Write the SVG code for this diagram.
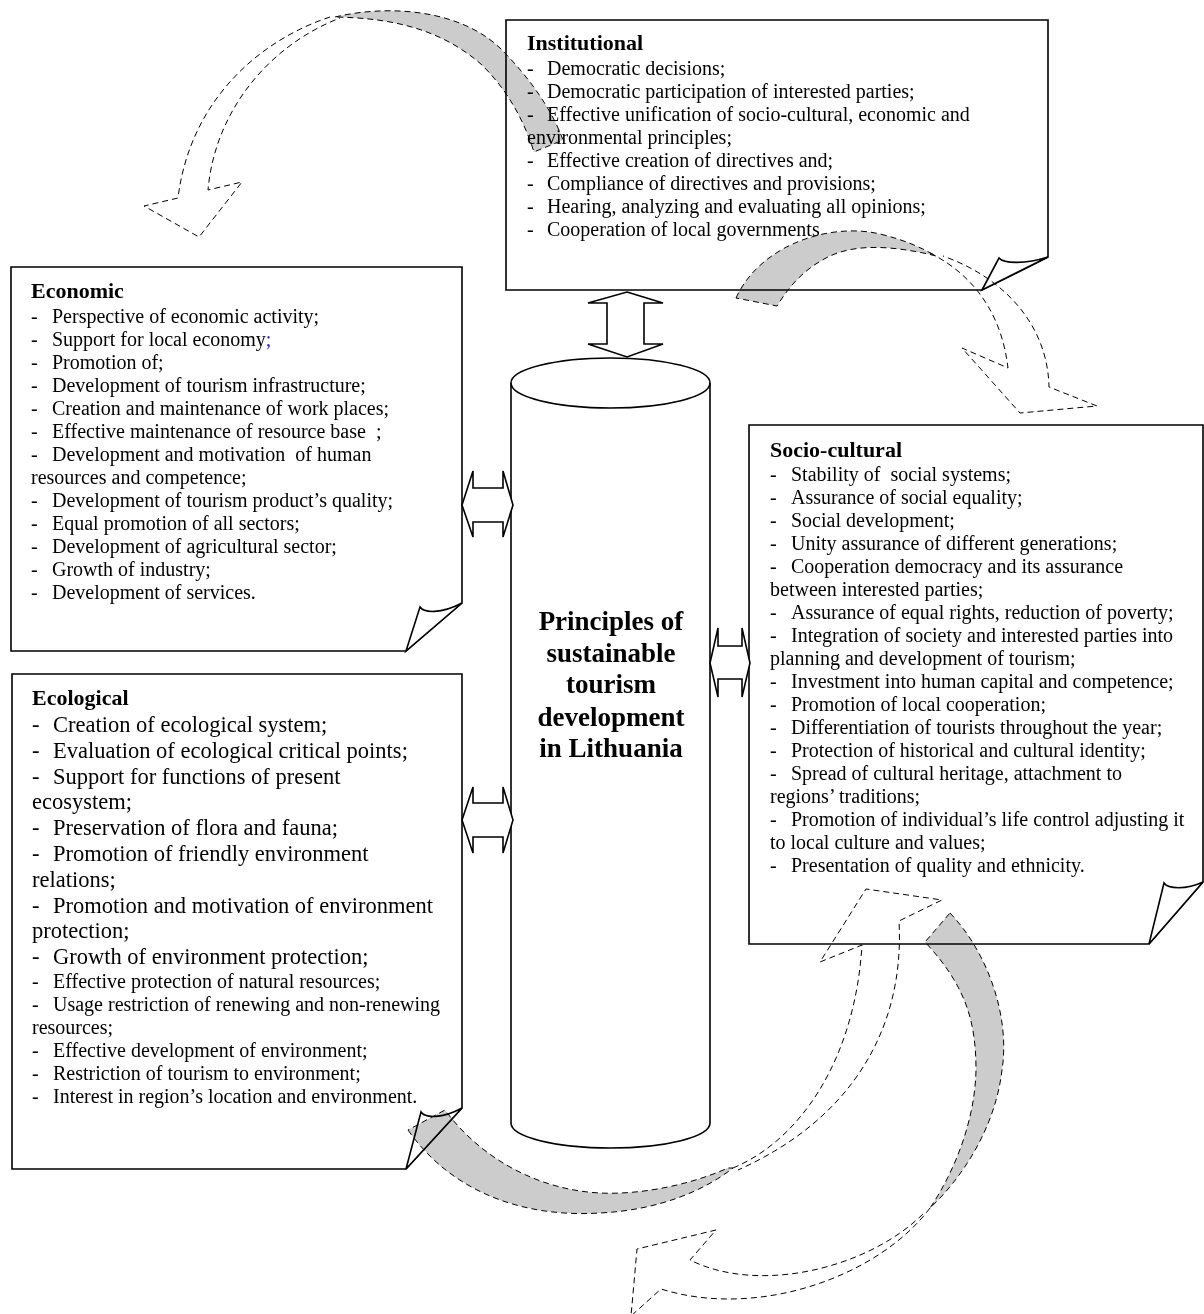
<svg xmlns="http://www.w3.org/2000/svg" width="1204" height="1314" viewBox="0 0 1204 1314">
<style>
  .frame{fill:#fff;stroke:#000;stroke-width:1.6;stroke-linejoin:miter}
  .flap{fill:#fff;stroke:#000;stroke-width:1.6;stroke-linejoin:miter}
  .dbl{fill:#fff;stroke:#000;stroke-width:1.6;stroke-linejoin:miter}
  .cyl{fill:#fff;stroke:#000;stroke-width:1.6}
  text{font-family:"Liberation Serif","Times New Roman",serif;font-size:20px;fill:#000}
  .title{font-weight:bold;font-size:22px}
  .big{font-size:22.5px}
  .core{font-weight:bold;font-size:27px;text-anchor:middle}
  .band{fill:#cccccc;stroke:#000;stroke-width:1;stroke-dasharray:6 4;mix-blend-mode:multiply}
  .ghost{fill:none;stroke:#000;stroke-width:1;stroke-dasharray:6 4}
</style>

<!-- Institutional -->
<g id="node-institutional">
  <path class="frame" d="M506,20 H1048 V257 L982,290 H506 Z"/>
  <path class="flap" d="M982,290 L999,258 C1004,264 1026,264 1048,257 Z"/>
  <text class="title" x="527" y="50">Institutional</text>
  <text x="527" y="75"><tspan>-</tspan><tspan x="547">Democratic decisions;</tspan></text>
  <text x="527" y="98"><tspan>-</tspan><tspan x="547">Democratic participation of interested parties;</tspan></text>
  <text x="527" y="121"><tspan>-</tspan><tspan x="547">Effective unification of socio-cultural, economic and</tspan></text>
  <text x="527" y="144">environmental principles;</text>
  <text x="527" y="167"><tspan>-</tspan><tspan x="547">Effective creation of directives and;</tspan></text>
  <text x="527" y="190"><tspan>-</tspan><tspan x="547">Compliance of directives and provisions;</tspan></text>
  <text x="527" y="213"><tspan>-</tspan><tspan x="547">Hearing, analyzing and evaluating all opinions;</tspan></text>
  <text x="527" y="236"><tspan>-</tspan><tspan x="547">Cooperation of local governments</tspan></text>
</g>

<!-- Economic -->
<g id="node-economic">
  <path class="frame" d="M11,267 H462 V603 L406,651 H11 Z"/>
  <path class="flap" d="M406,651 L420,607 C424,613 441,614 462,603 Z"/>
  <text class="title" x="31" y="298">Economic</text>
  <text x="31" y="323"><tspan>-</tspan><tspan x="52">Perspective of economic activity;</tspan></text>
  <text x="31" y="346"><tspan>-</tspan><tspan x="52">Support for local economy</tspan><tspan fill="#1a1aff">;</tspan></text>
  <text x="31" y="369"><tspan>-</tspan><tspan x="52">Promotion of;</tspan></text>
  <text x="31" y="392"><tspan>-</tspan><tspan x="52">Development of tourism infrastructure;</tspan></text>
  <text x="31" y="415"><tspan>-</tspan><tspan x="52">Creation and maintenance of work places;</tspan></text>
  <text x="31" y="438" xml:space="preserve"><tspan>-</tspan><tspan x="52">Effective maintenance of resource base  ;</tspan></text>
  <text x="31" y="461" xml:space="preserve"><tspan>-</tspan><tspan x="52">Development and motivation  of human</tspan></text>
  <text x="31" y="484">resources and competence;</text>
  <text x="31" y="507"><tspan>-</tspan><tspan x="52">Development of tourism product’s quality;</tspan></text>
  <text x="31" y="530"><tspan>-</tspan><tspan x="52">Equal promotion of all sectors;</tspan></text>
  <text x="31" y="553"><tspan>-</tspan><tspan x="52">Development of agricultural sector;</tspan></text>
  <text x="31" y="576"><tspan>-</tspan><tspan x="52">Growth of industry;</tspan></text>
  <text x="31" y="599"><tspan>-</tspan><tspan x="52">Development of services.</tspan></text>
</g>

<!-- Ecological -->
<g id="node-ecological">
  <path class="frame" d="M12,674 H462 V1108 L406,1169 H12 Z"/>
  <path class="flap" d="M406,1169 L421,1112 C425,1118 442,1119 462,1108 Z"/>
  <text class="title" x="32" y="705">Ecological</text>
  <g class="big">
    <text class="big" x="32" y="732"><tspan>-</tspan><tspan x="53">Creation of ecological system;</tspan></text>
    <text class="big" x="32" y="758"><tspan>-</tspan><tspan x="53">Evaluation of ecological critical points;</tspan></text>
    <text class="big" x="32" y="784"><tspan>-</tspan><tspan x="53">Support for functions of present</tspan></text>
    <text class="big" x="32" y="809">ecosystem;</text>
    <text class="big" x="32" y="835"><tspan>-</tspan><tspan x="53">Preservation of flora and fauna;</tspan></text>
    <text class="big" x="32" y="861"><tspan>-</tspan><tspan x="53">Promotion of friendly environment</tspan></text>
    <text class="big" x="32" y="887">relations;</text>
    <text class="big" x="32" y="913"><tspan>-</tspan><tspan x="53">Promotion and motivation of environment</tspan></text>
    <text class="big" x="32" y="938">protection;</text>
    <text class="big" x="32" y="964"><tspan>-</tspan><tspan x="53">Growth of environment protection;</tspan></text>
  </g>
  <text x="32" y="988"><tspan>-</tspan><tspan x="53">Effective protection of natural resources;</tspan></text>
  <text x="32" y="1011"><tspan>-</tspan><tspan x="53">Usage restriction of renewing and non-renewing</tspan></text>
  <text x="32" y="1034">resources;</text>
  <text x="32" y="1057"><tspan>-</tspan><tspan x="53">Effective development of environment;</tspan></text>
  <text x="32" y="1080"><tspan>-</tspan><tspan x="53">Restriction of tourism to environment;</tspan></text>
  <text x="32" y="1103"><tspan>-</tspan><tspan x="53">Interest in region’s location and environment.</tspan></text>
</g>

<!-- Socio-cultural -->
<g id="node-sociocultural">
  <path class="frame" d="M749,425 H1203 V882 L1149,944 H749 Z"/>
  <path class="flap" d="M1149,944 L1164,883 C1168,889 1186,890 1203,882 Z"/>
  <text class="title" x="770" y="457">Socio-cultural</text>
  <text x="770" y="481" xml:space="preserve"><tspan>-</tspan><tspan x="791">Stability of  social systems;</tspan></text>
  <text x="770" y="504"><tspan>-</tspan><tspan x="791">Assurance of social equality;</tspan></text>
  <text x="770" y="527"><tspan>-</tspan><tspan x="791">Social development;</tspan></text>
  <text x="770" y="550"><tspan>-</tspan><tspan x="791">Unity assurance of different generations;</tspan></text>
  <text x="770" y="573"><tspan>-</tspan><tspan x="791">Cooperation democracy and its assurance</tspan></text>
  <text x="770" y="596">between interested parties;</text>
  <text x="770" y="619"><tspan>-</tspan><tspan x="791">Assurance of equal rights, reduction of poverty;</tspan></text>
  <text x="770" y="642"><tspan>-</tspan><tspan x="791">Integration of society and interested parties into</tspan></text>
  <text x="770" y="665">planning and development of tourism;</text>
  <text x="770" y="688"><tspan>-</tspan><tspan x="791">Investment into human capital and competence;</tspan></text>
  <text x="770" y="711"><tspan>-</tspan><tspan x="791">Promotion of local cooperation;</tspan></text>
  <text x="770" y="734"><tspan>-</tspan><tspan x="791">Differentiation of tourists throughout the year;</tspan></text>
  <text x="770" y="757"><tspan>-</tspan><tspan x="791">Protection of historical and cultural identity;</tspan></text>
  <text x="770" y="780"><tspan>-</tspan><tspan x="791">Spread of cultural heritage, attachment to</tspan></text>
  <text x="770" y="803">regions’ traditions;</text>
  <text x="770" y="826"><tspan>-</tspan><tspan x="791">Promotion of individual’s life control adjusting it</tspan></text>
  <text x="770" y="849">to local culture and values;</text>
  <text x="770" y="872"><tspan>-</tspan><tspan x="791">Presentation of quality and ethnicity.</tspan></text>
</g>

<!-- Central cylinder -->
<g id="node-principles">
  <path class="cyl" d="M511,383 V1123 A99.5,25 0 0 0 710,1123 V383"/>
  <ellipse class="cyl" cx="610.5" cy="383" rx="99.5" ry="25"/>
  <text class="core" x="611" y="630">Principles of</text>
  <text class="core" x="611" y="662">sustainable</text>
  <text class="core" x="611" y="693">tourism</text>
  <text class="core" x="611" y="726">development</text>
  <text class="core" x="611" y="757">in Lithuania</text>
</g>

<!-- Connectors -->
<g id="connectors">
  <!-- two-way block arrows between the core and the boxes -->
  <polygon class="dbl" points="627,292 663,303 644,303 644,344 663,344 627,357 588,344 607,344 607,303 588,303"/>
  <polygon class="dbl" points="462,505 473,471 473,488 503,488 503,471 513,505 503,537 503,522 473,522 473,537"/>
  <polygon class="dbl" points="462,820 473,787 473,803 503,803 503,787 513,820 503,853 503,837 473,837 473,853"/>
  <polygon class="dbl" points="710,663 718,628 718,646 742,646 742,628 750,663 742,697 742,679 718,679 718,697"/>

  <!-- cycle of curved ribbon arrows: shaded back face + dashed front with head -->
  <path class="band" d="M335,17 C390,4 460,10 500,48 C530,78 552,110 563,140 L534,152 C522,115 505,88 482,65 C440,28 390,18 335,17 Z"/>
  <path class="ghost" d="M330,17 C260,40 190,100 178,198 L144,206 L199,237 L242,182 L208,190 C215,110 270,45 340,18"/>

  <path class="band" d="M736,298 C760,245 830,222 880,234 C905,240 922,248 936,256 L928,254 C900,248 860,242 830,256 C805,268 790,285 777,306 Z"/>
  <path class="ghost" d="M930,253 C960,268 1000,300 1008,368 L962,348 L1020,413 L1097,406 L1049,387 C1048,330 1010,280 943,256"/>

  <path class="band" d="M950,913 C990,955 1010,1020 1002,1070 C995,1130 960,1180 930,1208 L932,1205 C955,1170 975,1120 976,1070 C976,1020 965,985 925,942 Z"/>
  <path class="ghost" d="M930,1208 C880,1275 760,1320 661,1289 L631,1316 L637,1249 L716,1230 L690,1260 C760,1295 870,1268 925,1212"/>

  <path class="band" d="M408,1130 C450,1190 520,1218 600,1213 C660,1210 705,1190 733,1168 L728,1168 C690,1185 640,1195 600,1193 C540,1190 482,1160 445,1110 Z"/>
  <path class="ghost" d="M733,1168 C800,1140 855,1060 862,945 L820,962 L866,889 L942,900 L899,921 C905,1030 850,1120 738,1170"/>
</g>
</svg>
